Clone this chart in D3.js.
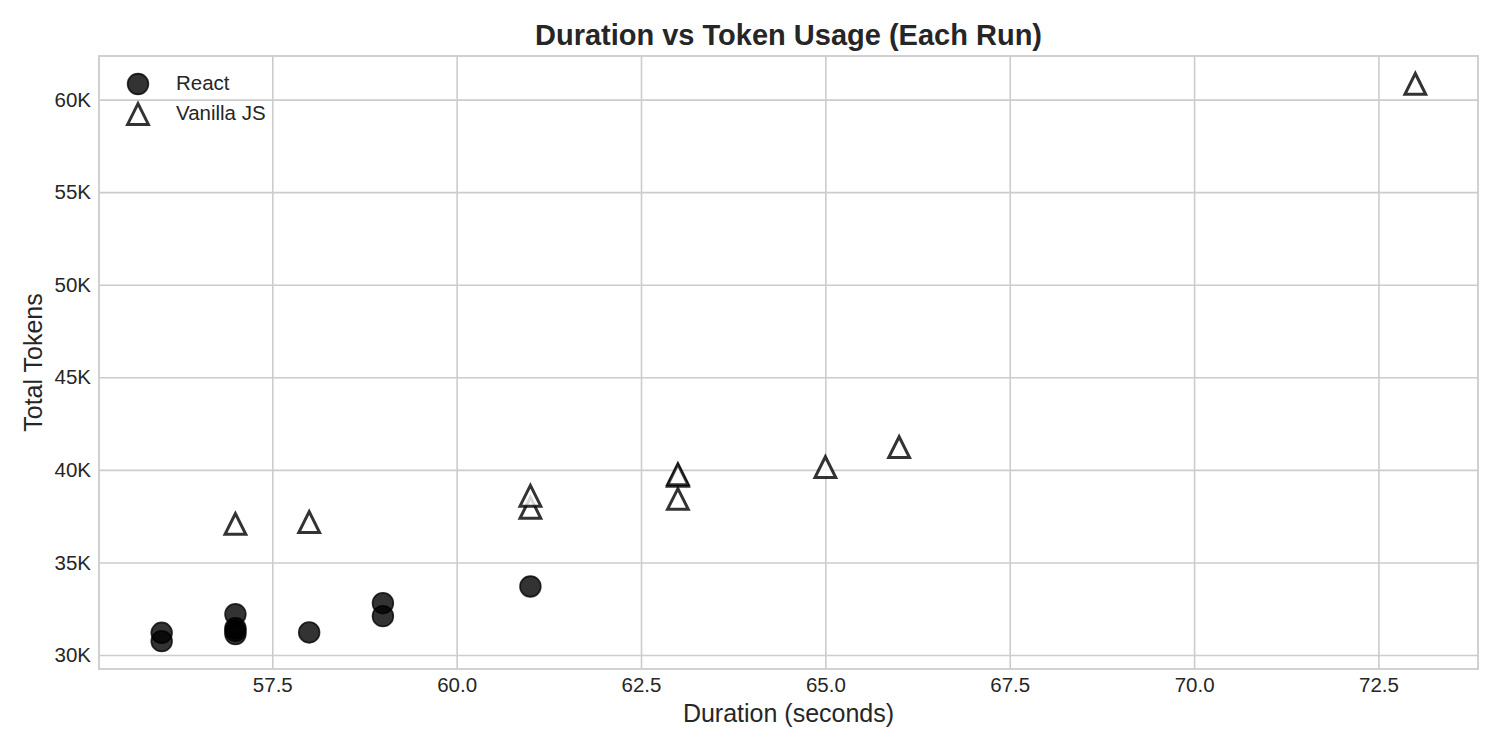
<!DOCTYPE html>
<html>
<head>
<meta charset="utf-8">
<script src="https://cdn.jsdelivr.net/npm/d3@7"></script>
<style>
  body { margin: 0; background: #fff; }
  svg { display: block; font-family: "Liberation Sans", Arial, sans-serif; }
</style>
</head>
<body>
<div id="vis"></div>
<script>
(function () {
  'use strict';

  var WIDTH = 1500;
  var HEIGHT = 750;

  // runs
  var REACT_DURATION = [56, 56, 57, 57, 57, 57, 58, 59, 59, 61];
  var REACT_TOKENS = [31200, 30750, 32200, 31450, 31300, 31130, 31220, 32800, 32100, 33700];
  var VANILLA_DURATION = [57, 58, 61, 61, 63, 63, 63, 65, 66, 73];
  var VANILLA_TOKENS = [37080, 37180, 37950, 38600, 38430, 39680, 39760, 40150, 41230, 60850];
  var X_TICKS = [57.5, 60, 62.5, 65, 67.5, 70, 72.5];
  var Y_TICKS = [30000, 35000, 40000, 45000, 50000, 55000, 60000];
  var SERIES = ['React', 'Vanilla JS'];

  var plot = { left: 99, right: 1478, top: 56, bottom: 669 };

  var pad = function (ext) {
    var m = (ext[1] - ext[0]) * 0.05;
    return [ext[0] - m, ext[1] + m];
  };

  var x = d3.scaleLinear()
    .domain(pad(d3.extent(REACT_DURATION.concat(VANILLA_DURATION))))
    .range([plot.left, plot.right]);
  var y = d3.scaleLinear()
    .domain(pad(d3.extent(REACT_TOKENS.concat(VANILLA_TOKENS))))
    .range([plot.bottom, plot.top]);

  var svg = d3.select('#vis').append('svg')
    .attr('width', WIDTH)
    .attr('height', HEIGHT);

  // grid
  var xAxis = d3.axisBottom(x).tickValues(X_TICKS).tickFormat(d3.format('.1f'))
    .tickSize(-(plot.bottom - plot.top)).tickPadding(8);
  var yAxis = d3.axisLeft(y).tickValues(Y_TICKS).tickFormat(function (d) { return (d / 1000) + 'K'; })
    .tickSize(-(plot.right - plot.left)).tickPadding(8);

  var gx = svg.append('g')
    .attr('transform', 'translate(0,' + plot.bottom + ')')
    .call(xAxis);
  var gy = svg.append('g')
    .attr('transform', 'translate(' + plot.left + ',0)')
    .call(yAxis);

  [gx, gy].forEach(function (g) {
    g.select('.domain').remove();
    g.selectAll('.tick line').attr('stroke', '#cccccc').attr('stroke-width', 1.6);
    g.selectAll('.tick text')
      .attr('fill', '#262626')
      .style('font-size', '20.5px');
  });

  // frame
  svg.append('rect')
    .attr('x', plot.left)
    .attr('y', plot.top)
    .attr('width', plot.right - plot.left)
    .attr('height', plot.bottom - plot.top)
    .attr('fill', 'none')
    .attr('stroke', '#cccccc')
    .attr('stroke-width', 1.8);

  var R = 10.4;
  var triangle = function (cx, cy) {
    return 'M' + cx + ',' + (cy - R) + 'L' + (cx - R) + ',' + (cy + R) + 'L' + (cx + R) + ',' + (cy + R) + 'Z';
  };
  var drawCircle = function (sel, cx, cy) {
    return sel.append('circle')
      .attr('cx', cx).attr('cy', cy).attr('r', R)
      .attr('fill', '#000').attr('fill-opacity', 0.8)
      .attr('stroke', '#000').attr('stroke-opacity', 0.8)
      .attr('stroke-width', 1.6);
  };
  var drawTriangle = function (sel, cx, cy) {
    return sel.append('path')
      .attr('d', triangle(cx, cy))
      .attr('fill', '#fff').attr('fill-opacity', 0.8)
      .attr('stroke', '#000').attr('stroke-opacity', 0.8)
      .attr('stroke-width', 3)
      .attr('stroke-linejoin', 'miter');
  };

  var marks = svg.append('g');
  REACT_DURATION.forEach(function (d, i) {
    drawCircle(marks, x(d), y(REACT_TOKENS[i]));
  });
  VANILLA_DURATION.forEach(function (d, i) {
    drawTriangle(marks, x(d), y(VANILLA_TOKENS[i]));
  });

  // legend
  var legend = svg.append('g');
  drawCircle(legend, 138, 84);
  drawTriangle(legend, 138, 114);
  SERIES.forEach(function (name, i) {
    legend.append('text')
      .attr('x', 176)
      .attr('y', 90 + i * 29.5)
      .attr('fill', '#262626')
      .style('font-size', '20.5px')
      .text(name);
  });

  // titles
  svg.append('text')
    .attr('x', (plot.left + plot.right) / 2)
    .attr('y', 45)
    .attr('text-anchor', 'middle')
    .attr('fill', '#262626')
    .style('font-size', '29px')
    .style('font-weight', 'bold')
    .text('Duration vs Token Usage (Each Run)');

  svg.append('text')
    .attr('x', (plot.left + plot.right) / 2)
    .attr('y', 722)
    .attr('text-anchor', 'middle')
    .attr('fill', '#262626')
    .style('font-size', '25px')
    .text('Duration (seconds)');

  svg.append('text')
    .attr('transform', 'translate(42,' + ((plot.top + plot.bottom) / 2) + ') rotate(-90)')
    .attr('text-anchor', 'middle')
    .attr('fill', '#262626')
    .style('font-size', '25px')
    .text('Total Tokens');
})();
</script>
</body>
</html>
